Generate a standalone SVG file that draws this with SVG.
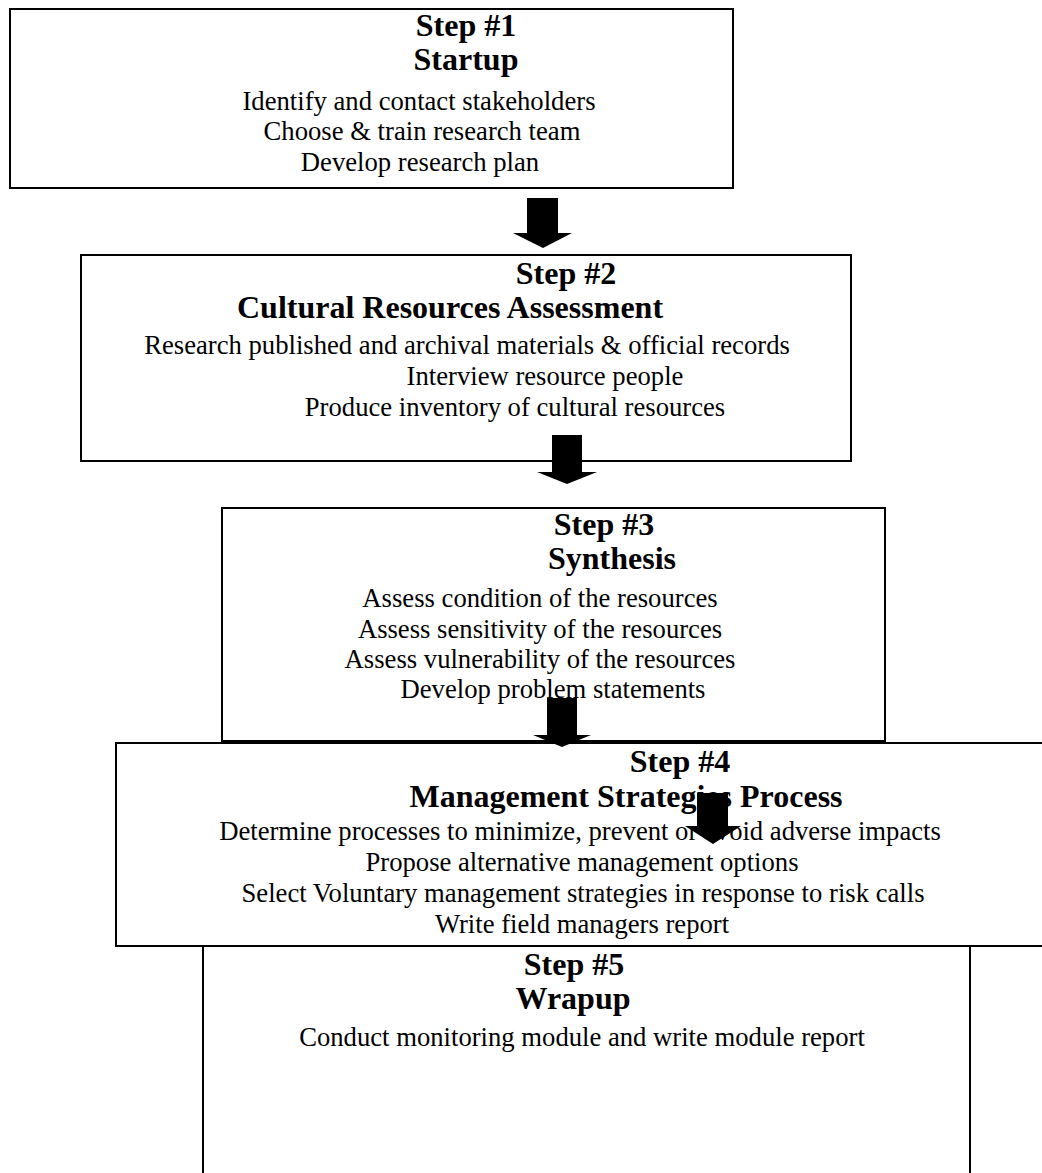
<svg xmlns="http://www.w3.org/2000/svg" width="1042" height="1173" viewBox="0 0 1042 1173">
<style>
.box{fill:#fff;stroke:#000;stroke-width:2}
.t{font-family:"Liberation Serif","Times New Roman",serif;font-size:32px;font-weight:bold;text-anchor:middle;fill:#000}
.b{font-family:"Liberation Serif","Times New Roman",serif;font-size:26.67px;text-anchor:middle;fill:#000}
.arr{fill:#000}
</style>
<rect width="1042" height="1173" fill="#fff"/>
<g id="step1">
<rect class="box" x="10" y="9" width="723" height="179"/>
<text class="t" x="466" y="36">Step #1</text>
<text class="t" x="466" y="70">Startup</text>
<text class="b" x="419" y="110">Identify and contact stakeholders</text>
<text class="b" x="422" y="140">Choose &amp; train research team</text>
<text class="b" x="420" y="171">Develop research plan</text>
</g>
<g id="step2">
<rect class="box" x="81" y="255" width="770" height="206"/>
<text class="t" x="566" y="284">Step #2</text>
<text class="t" x="450" y="318">Cultural Resources Assessment</text>
<text class="b" x="467" y="354">Research published and archival materials &amp; official records</text>
<text class="b" x="545" y="385">Interview resource people</text>
<text class="b" x="515" y="416">Produce inventory of cultural resources</text>
</g>
<g id="step3">
<rect class="box" x="222" y="508" width="663" height="233"/>
<text class="t" x="604" y="535">Step #3</text>
<text class="t" x="612" y="569">Synthesis</text>
<text class="b" x="540" y="607">Assess condition of the resources</text>
<text class="b" x="540" y="638">Assess sensitivity of the resources</text>
<text class="b" x="540" y="668">Assess vulnerability of the resources</text>
<text class="b" x="553" y="698">Develop problem statements</text>
</g>
<g id="step4">
<rect class="box" x="116" y="743" width="940" height="203"/>
<text class="t" x="680" y="772">Step #4</text>
<text class="t" x="626" y="807">Management Strategies Process</text>
<text class="b" x="580" y="840">Determine processes to minimize, prevent or avoid adverse impacts</text>
<text class="b" x="582" y="871">Propose alternative management options</text>
<text class="b" x="583" y="902">Select Voluntary management strategies in response to risk calls</text>
<text class="b" x="582" y="933">Write field managers report</text>
</g>
<g id="step5">
<rect class="box" x="203" y="946" width="767" height="240"/>
<text class="t" x="574" y="975">Step #5</text>
<text class="t" x="573" y="1009">Wrapup</text>
<text class="b" x="582" y="1046">Conduct monitoring module and write module report</text>
</g>
<g id="connectors">
<polygon class="arr" points="527,198 558,198 558,233 572,233 543,248 513,233 527,233"/>
<polygon class="arr" points="552,435 582,435 582,472 597,472 567,484 537,472 552,472"/>
<polygon class="arr" points="547,698 577,698 577,735 591,735 562,747 533,735 547,735"/>
<polygon class="arr" points="697,793 728,793 728,826 741,826 713,844 685,826 697,826"/>
</g>
</svg>
